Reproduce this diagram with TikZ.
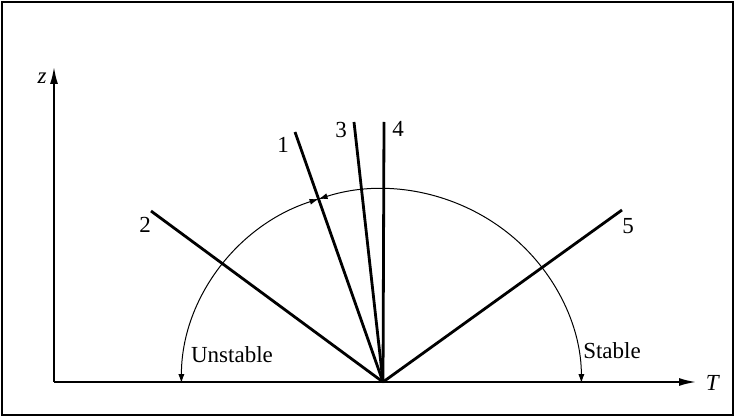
\documentclass[tikz,border=0pt]{standalone}
\usepackage{fontspec}
\setmainfont{Liberation Serif}
\usetikzlibrary{arrows.meta,calc}
\tikzset{axis/.style={line width=2.4pt,-{Latex[length=18pt,width=8pt]}},ray/.style={line width=2.8pt},turn/.style={line width=1pt,{Latex[length=9pt,width=6pt]}-{Latex[length=9pt,width=6pt]}},lbl/.style={font=\fontsize{23}{26}\selectfont,inner sep=0pt}}

\begin{document}
\begin{tikzpicture}[x=1pt,y=1pt]
\useasboundingbox (0,0) rectangle (736,418);
\draw[line width=1.2pt] (2,3) rectangle (733,416);
\coordinate (o) at (54,36);
\coordinate (v) at (383,36);
\coordinate (zend) at (54,352);
\coordinate (tend) at (697,36);
\draw[axis] (o)--(zend);
\draw[axis] (o)--(tend);
\node[lbl] (zlab) at (42,340) {\textit{z}};
\node[lbl] (tlab) at (713,35) {\textit{T}};
% rays from the ground point
\coordinate (r1) at (295,286);
\coordinate (r2) at (151,207);
\coordinate (r3) at (354,296);
\coordinate (r4) at (384,296);
\coordinate (r5) at (622,208);
\foreach \i in {1,...,5} \draw[ray] (v)--(r\i);
\node[lbl] (n1) at (283,273) {1};
\node[lbl] (n2) at (145,193) {2};
\node[lbl] (n3) at (341,288) {3};
\node[lbl] (n4) at (398,289) {4};
\node[lbl] (n5) at (628,192) {5};
% turning arcs
\coordinate (m) at ($(v)!0.732!(r1)$);
\draw[turn] (m) arc[start angle=108.3,end angle=180,x radius=200pt,y radius=194pt];
\draw[turn] (m) arc[start angle=108.3,end angle=0,x radius=200pt,y radius=194pt];
\node[lbl] (unst) at (232,63) {Unstable};
\node[lbl] (stab) at (612,67) {Stable};
\end{tikzpicture}
\end{document}
